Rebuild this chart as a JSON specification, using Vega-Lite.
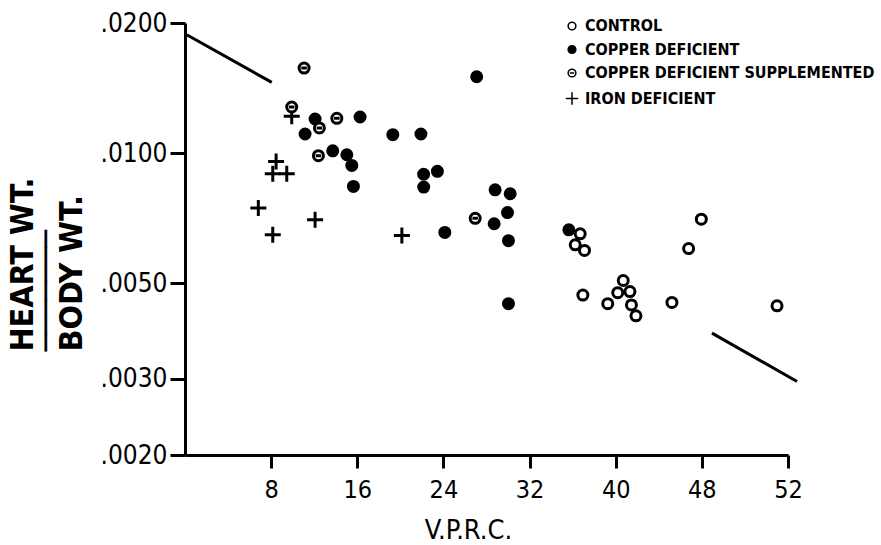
{
  "$schema": "https://vega.github.io/schema/vega-lite/v6.json",
  "width": 603,
  "height": 432,
  "autosize": {"type": "none"},
  "padding": {"left": 185, "top": 23, "right": 93, "bottom": 90},
  "background": "white",
  "config": {
    "view": {"stroke": null},
    "axis": {
      "grid": false,
      "domainColor": "black",
      "domainWidth": 3,
      "tickColor": "black",
      "tickWidth": 3,
      "labelColor": "black",
      "titleColor": "black",
      "labelFont": "DejaVu Sans Condensed",
      "titleFont": "DejaVu Sans Condensed",
      "labelFontWeight": "normal"
    },
    "legend": {
      "labelFont": "DejaVu Sans Condensed",
      "labelFontSize": 16,
      "labelFontWeight": "bold",
      "labelColor": "black",
      "labelLimit": 0
    }
  },
  "datasets": {
    "trend": [
      {"seg": "upper", "vprc": 0.16, "ratio": 0.01879},
      {"seg": "upper", "vprc": 8.06, "ratio": 0.01457},
      {"seg": "lower", "vprc": 48.94, "ratio": 0.00383},
      {"seg": "lower", "vprc": 56.84, "ratio": 0.00296}
    ],
    "points": [
      {"group": "CONTROL", "vprc": 36.7, "ratio": 0.0065},
      {"group": "CONTROL", "vprc": 36.24, "ratio": 0.00613},
      {"group": "CONTROL", "vprc": 37.1, "ratio": 0.00595},
      {"group": "CONTROL", "vprc": 36.95, "ratio": 0.00469},
      {"group": "CONTROL", "vprc": 39.26, "ratio": 0.00448},
      {"group": "CONTROL", "vprc": 40.7, "ratio": 0.00507},
      {"group": "CONTROL", "vprc": 40.19, "ratio": 0.00475},
      {"group": "CONTROL", "vprc": 41.32, "ratio": 0.00478},
      {"group": "CONTROL", "vprc": 41.46, "ratio": 0.00445},
      {"group": "CONTROL", "vprc": 41.88, "ratio": 0.0042},
      {"group": "CONTROL", "vprc": 45.22, "ratio": 0.00451},
      {"group": "CONTROL", "vprc": 47.95, "ratio": 0.00703},
      {"group": "CONTROL", "vprc": 46.77, "ratio": 0.00601},
      {"group": "CONTROL", "vprc": 54.98, "ratio": 0.00443},
      {"group": "COPPER DEFICIENT", "vprc": 27.09, "ratio": 0.01502},
      {"group": "COPPER DEFICIENT", "vprc": 12.08, "ratio": 0.01199},
      {"group": "COPPER DEFICIENT", "vprc": 11.15, "ratio": 0.01107},
      {"group": "COPPER DEFICIENT", "vprc": 16.26, "ratio": 0.01212},
      {"group": "COPPER DEFICIENT", "vprc": 19.3, "ratio": 0.01103},
      {"group": "COPPER DEFICIENT", "vprc": 21.91, "ratio": 0.01107},
      {"group": "COPPER DEFICIENT", "vprc": 13.72, "ratio": 0.01012},
      {"group": "COPPER DEFICIENT", "vprc": 15.03, "ratio": 0.00991},
      {"group": "COPPER DEFICIENT", "vprc": 15.49, "ratio": 0.00936},
      {"group": "COPPER DEFICIENT", "vprc": 15.64, "ratio": 0.00837},
      {"group": "COPPER DEFICIENT", "vprc": 22.16, "ratio": 0.00893},
      {"group": "COPPER DEFICIENT", "vprc": 23.44, "ratio": 0.00907},
      {"group": "COPPER DEFICIENT", "vprc": 22.17, "ratio": 0.00834},
      {"group": "COPPER DEFICIENT", "vprc": 24.13, "ratio": 0.00655},
      {"group": "COPPER DEFICIENT", "vprc": 28.8, "ratio": 0.00822},
      {"group": "COPPER DEFICIENT", "vprc": 30.2, "ratio": 0.00805},
      {"group": "COPPER DEFICIENT", "vprc": 29.95, "ratio": 0.00728},
      {"group": "COPPER DEFICIENT", "vprc": 28.71, "ratio": 0.00686},
      {"group": "COPPER DEFICIENT", "vprc": 30.04, "ratio": 0.00627},
      {"group": "COPPER DEFICIENT", "vprc": 30.04, "ratio": 0.00448},
      {"group": "COPPER DEFICIENT", "vprc": 35.65, "ratio": 0.00664},
      {"group": "IRON DEFICIENT", "vprc": 9.91, "ratio": 0.01216},
      {"group": "IRON DEFICIENT", "vprc": 8.46, "ratio": 0.00956},
      {"group": "IRON DEFICIENT", "vprc": 8.15, "ratio": 0.00896},
      {"group": "IRON DEFICIENT", "vprc": 9.45, "ratio": 0.00896},
      {"group": "IRON DEFICIENT", "vprc": 6.81, "ratio": 0.00746},
      {"group": "IRON DEFICIENT", "vprc": 12.08, "ratio": 0.00701},
      {"group": "IRON DEFICIENT", "vprc": 8.15, "ratio": 0.00647},
      {"group": "IRON DEFICIENT", "vprc": 20.14, "ratio": 0.00644},
      {"group": "COPPER DEFICIENT SUPPLEMENTED", "vprc": 11.06, "ratio": 0.01573},
      {"group": "COPPER DEFICIENT SUPPLEMENTED", "vprc": 9.91, "ratio": 0.01278},
      {"group": "COPPER DEFICIENT SUPPLEMENTED", "vprc": 12.48, "ratio": 0.01143},
      {"group": "COPPER DEFICIENT SUPPLEMENTED", "vprc": 14.1, "ratio": 0.01203},
      {"group": "COPPER DEFICIENT SUPPLEMENTED", "vprc": 12.39, "ratio": 0.00986},
      {"group": "COPPER DEFICIENT SUPPLEMENTED", "vprc": 26.95, "ratio": 0.00706}
    ]
  },
  "encoding": {
    "x": {
      "field": "vprc",
      "type": "quantitative",
      "scale": {"domain": [0, 56], "nice": false, "zero": false},
      "axis": {
        "title": "V.P.R.C.",
        "values": [8, 16, 24, 32, 40, 48, 56],
        "labelExpr": "datum.value == 56 ? '52' : datum.label",
        "tickSize": 13,
        "labelFontSize": 25,
        "labelBaseline": "alphabetic",
        "labelPadding": 29,
        "labelFlush": false,
        "labelOverlap": false,
        "titleFontSize": 27,
        "titleFontWeight": "normal",
        "titleX": 283,
        "titleY": 83,
        "titleBaseline": "alphabetic",
        "titleAlign": "center"
      }
    },
    "y": {
      "field": "ratio",
      "type": "quantitative",
      "scale": {"type": "log", "domain": [0.002, 0.02], "nice": false},
      "axis": {
        "title": ["HEART WT.", "───────", "BODY WT."],
        "values": [0.002, 0.003, 0.005, 0.01, 0.02],
        "labelExpr": "replace(format(datum.value, '.4f'), '0.', '.')",
        "tickSize": 15,
        "labelPadding": 3,
        "labelFontSize": 26,
        "labelBaseline": "middle",
        "labelFlush": false,
        "labelOverlap": false,
        "titleFontSize": 32,
        "titleFontWeight": "bold",
        "titleAngle": 270,
        "titleAlign": "left",
        "titleBaseline": "alphabetic",
        "titleLineHeight": 24.5,
        "titleX": -153,
        "titleY": 328
      }
    }
  },
  "layer": [
    {
      "data": {"name": "trend"},
      "mark": {"type": "line", "color": "black", "strokeWidth": 3},
      "encoding": {"detail": {"field": "seg", "type": "nominal"}}
    },
    {
      "data": {"name": "points"},
      "mark": {"type": "point", "filled": true, "stroke": "black", "strokeWidth": 3, "size": 100, "opacity": 1},
      "encoding": {
        "shape": {
          "field": "group",
          "type": "nominal",
          "scale": {
            "domain": ["CONTROL", "COPPER DEFICIENT", "COPPER DEFICIENT SUPPLEMENTED", "IRON DEFICIENT"],
            "range": ["circle", "circle", "M1,0A1,1,0,1,1,-1,0A1,1,0,1,1,1,0M-0.55,0L0.55,0", "M-1.6,0L1.6,0M0,-1.6L0,1.6"]
          },
          "legend": {
            "title": null,
            "orient": "none",
            "legendX": 379,
            "legendY": -5,
            "padding": 0,
            "symbolSize": 60,
            "rowPadding": 7.5,
            "labelOffset": 5,
            "encode": {
              "symbols": {
                "update": {
                  "stroke": {"value": "black"},
                  "strokeWidth": {"value": 2.5},
                  "opacity": {"value": 1}
                }
              }
            }
          }
        },
        "fill": {
          "field": "group",
          "type": "nominal",
          "scale": {
            "domain": ["CONTROL", "COPPER DEFICIENT", "COPPER DEFICIENT SUPPLEMENTED", "IRON DEFICIENT"],
            "range": ["white", "black", "white", "transparent"]
          },
          "legend": {
            "title": null,
            "orient": "none",
            "legendX": 379,
            "legendY": -5,
            "padding": 0,
            "symbolSize": 60,
            "rowPadding": 7.5,
            "labelOffset": 5,
            "encode": {
              "symbols": {
                "update": {
                  "stroke": {"value": "black"},
                  "strokeWidth": {"value": 2.5},
                  "opacity": {"value": 1}
                }
              }
            }
          }
        }
      }
    }
  ]
}
